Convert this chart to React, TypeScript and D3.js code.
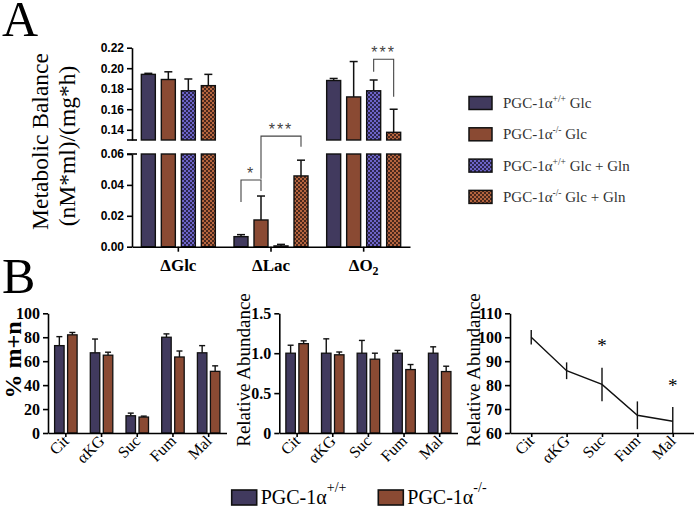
import React, { useEffect, useRef } from 'react';
import * as d3 from 'd3';

// ---- Panel A data: metabolic balance ----
const metabCats = ['ΔGlc', 'ΔLac', 'ΔO2'];
const wtGlc = [0.194, 0.0065, 0.188];
const wtGlcErr = [0.001, 0.0013, 0.002];
const koGlc = [0.189, 0.0173, 0.172];
const koGlcErr = [0.0075, 0.0155, 0.0345];
const wtGln = [0.178, 0.0005, 0.178];
const wtGlnErr = [0.0115, 0.001, 0.0105];
const koGln = [0.183, 0.0458, 0.1375];
const koGlnErr = [0.011, 0.0102, 0.0225];
const upperTicks = [0.14, 0.16, 0.18, 0.2, 0.22];
const lowerTicks = [0, 0.02, 0.04, 0.06];
const legendSup = ['+/+', '-/-', '+/+', '-/-'];
const legendSuffix = [' Glc', ' Glc', ' Glc + Gln', ' Glc + Gln'];
// brackets: category, left bar, right bar, top, left leg end, right leg end, label, axis part
const sigCat = ['ΔLac', 'ΔLac', 'ΔO2'];
const sigFrom = [0, 1, 2];
const sigTo = [1, 3, 3];
const sigTop = [0.0432, 0.0716, 0.2087];
const sigLeft = [0.029, 0.044, 0.1966];
const sigRight = [0.036, 0.0647, 0.1722];
const sigLabel = ['*', '***', '***'];
const sigPart = ['low', 'low', 'high'];

// ---- Panel B data ----
const tcaCats = ['Cit', 'αKG', 'Suc', 'Fum', 'Mal'];
const mnWT = [73, 67, 14.4, 80, 67];
const mnWTErr = [7.5, 11.5, 2.2, 2.8, 6];
const mnKO = [82, 65, 13.3, 63.5, 51.5];
const mnKOErr = [2, 2.5, 0.8, 5, 4.6];
const mnTicks = [0, 20, 40, 60, 80, 100];
const raWT = [1, 1, 1, 1, 1];
const raWTErr = [0.1, 0.18, 0.16, 0.035, 0.08];
const raKO = [1.12, 0.98, 0.925, 0.795, 0.77];
const raKOErr = [0.035, 0.035, 0.075, 0.063, 0.067];
const raTicks = [0, 0.5, 1.0, 1.5];
const lineVals = [100, 86, 80.3, 67.4, 64.9];
const lineErr = [3, 3.5, 7, 5.8, 6];
const lineTicks = [60, 70, 80, 90, 100, 110];
const lineStarCats = ['Suc', 'Mal'];
const lineStarVals = [98, 81.3];

const PURPLE = '#413a5e';
const BROWN = '#8a4a33';
const SERIF = '"Liberation Serif", "Times New Roman", Times, serif';
const SANS = '"Liberation Sans", Arial, sans-serif';

export default function App() {
    const svgRef = useRef<SVGSVGElement>(null);

    useEffect(() => {
        const svg = d3.select(svgRef.current);
        svg.selectAll('*').remove();

        // serif text helper (x/y anchor, optional rotation)
        const st = (parent: any, x: number, y: number, text: string, size: number, opts: any = {}) => {
            const t = parent.append('text')
                .attr('transform', `translate(${x},${y}) rotate(${opts.rot || 0})`)
                .attr('text-anchor', opts.anchor || 'start')
                .style('font-family', SERIF).style('font-size', size + 'px')
                .style('font-weight', opts.weight || 'normal')
                .attr('fill', opts.fill || '#000');
            if (text) t.text(text);
            return t;
        };

        const defs = svg.append('defs');
        const mkPattern = (id: string, light: string, dark: string) => {
            const p = defs.append('pattern').attr('id', id)
                .attr('width', 4).attr('height', 4).attr('patternUnits', 'userSpaceOnUse');
            p.append('rect').attr('width', 4).attr('height', 4).attr('fill', light);
            p.append('rect').attr('width', 2).attr('height', 2).attr('fill', dark);
            p.append('rect').attr('x', 2).attr('y', 2).attr('width', 2).attr('height', 2).attr('fill', dark);
        };
        mkPattern('chkWT', '#6d64c8', '#2c2750');
        mkPattern('chkKO', '#b5653f', '#4a281c');
        const fills = [PURPLE, BROWN, 'url(#chkWT)', 'url(#chkKO)'];

        // panel letters
        st(svg, 2, 36, 'A', 50);
        st(svg, 2, 293, 'B', 50);

        // ================= PANEL A =================
        const series = [
            { v: wtGlc, e: wtGlcErr }, { v: koGlc, e: koGlcErr },
            { v: wtGln, e: wtGlnErr }, { v: koGln, e: koGlnErr },
        ];
        const xA = d3.scaleBand<string>().domain(metabCats).range([132, 410]);
        const xAin = d3.scaleBand<number>().domain(d3.range(4)).range([-37, 37]).paddingInner(0.3);
        const yHigh = d3.scaleLinear().domain([0.13, 0.22]).range([140, 47.7]);
        const yLow = d3.scaleLinear().domain([0, 0.06]).range([246.7, 154]);
        const gA = svg.append('g');

        const styleAxis = (ax: any, font: string, size: number) => {
            ax.selectAll('path,line').attr('stroke', '#000').attr('stroke-width', 1.6);
            ax.selectAll('text').style('font-family', font).style('font-size', size + 'px')
                .style('font-weight', 'bold').attr('fill', '#000');
        };

        const axUp = gA.append('g').attr('transform', 'translate(132,0)')
            .call(d3.axisLeft(yHigh).tickValues(upperTicks).tickFormat(d3.format('.2f')).tickSize(5).tickSizeOuter(0));
        styleAxis(axUp, SANS, 12);
        const axLo = gA.append('g').attr('transform', 'translate(132,0)')
            .call(d3.axisLeft(yLow).tickValues(lowerTicks).tickFormat(d3.format('.2f')).tickSize(5).tickSizeOuter(0));
        styleAxis(axLo, SANS, 12);
        // break caps
        gA.append('line').attr('x1', 127).attr('x2', 137).attr('y1', yHigh(0.13)).attr('y2', yHigh(0.13)).attr('stroke', '#000').attr('stroke-width', 1.6);
        gA.append('line').attr('x1', 127).attr('x2', 137).attr('y1', yLow(0.06)).attr('y2', yLow(0.06)).attr('stroke', '#000').attr('stroke-width', 1.6);

        // bars
        series.forEach((s, si) => {
            metabCats.forEach((c, ci) => {
                const v = s.v[ci], e = s.e[ci];
                const x = (xA(c) as number) + xA.bandwidth() / 2 + (xAin(si) as number);
                const w = xAin.bandwidth();
                const lowTop = yLow(Math.min(v, 0.06));
                gA.append('rect').attr('x', x).attr('y', lowTop).attr('width', w)
                    .attr('height', yLow(0) - lowTop).attr('fill', fills[si]).attr('stroke', '#111').attr('stroke-width', 1.4);
                let top = lowTop, errTop = yLow(v + e);
                if (v > 0.13) {
                    top = yHigh(v);
                    errTop = yHigh(v + e);
                    gA.append('rect').attr('x', x).attr('y', top).attr('width', w)
                        .attr('height', yHigh(0.13) - top).attr('fill', fills[si]).attr('stroke', '#111').attr('stroke-width', 1.4);
                }
                const cx = x + w / 2;
                gA.append('line').attr('x1', cx).attr('x2', cx).attr('y1', top).attr('y2', errTop).attr('stroke', '#111').attr('stroke-width', 1.5);
                gA.append('line').attr('x1', cx - 4).attr('x2', cx + 4).attr('y1', errTop).attr('y2', errTop).attr('stroke', '#111').attr('stroke-width', 1.5);
            });
        });

        const axX = gA.append('g').attr('transform', `translate(0,${yLow(0)})`)
            .call(d3.axisBottom(xA).tickSize(5).tickSizeOuter(0).tickFormat(() => ''));
        styleAxis(axX, SANS, 12);

        metabCats.forEach((c) => {
            const cx = (xA(c) as number) + xA.bandwidth() / 2;
            const t = st(gA, cx, 271, '', 17, { anchor: 'middle', weight: 'bold' });
            if (c === 'ΔO2') {
                t.append('tspan').text('ΔO');
                t.append('tspan').attr('dy', 4).style('font-size', '12px').text('2');
            } else t.text(c);
        });

        // significance brackets
        sigCat.forEach((c, i) => {
            const ys = sigPart[i] === 'low' ? yLow : yHigh;
            const base = (xA(c) as number) + xA.bandwidth() / 2;
            const x1 = base + (xAin(sigFrom[i]) as number) + xAin.bandwidth() / 2;
            const x2 = base + (xAin(sigTo[i]) as number) + xAin.bandwidth() / 2;
            gA.append('path')
                .attr('d', `M${x1},${ys(sigLeft[i])}V${ys(sigTop[i])}H${x2}V${ys(sigRight[i])}`)
                .attr('fill', 'none').attr('stroke', '#444').attr('stroke-width', 1.1);
            gA.append('text').attr('x', (x1 + x2) / 2).attr('y', ys(sigTop[i]) - 1)
                .attr('text-anchor', 'middle').style('font-family', SANS).style('font-size', '16px')
                .style('letter-spacing', '2px').attr('fill', '#444').text(sigLabel[i]);
        });

        // y label
        st(gA, 48, 141.5, 'Metabolic Balance', 23.5, { rot: -90, anchor: 'middle' });
        st(gA, 75, 146, '(nM*ml)/(mg*h)', 23.5, { rot: -90, anchor: 'middle' });

        // legend A
        const lg = svg.append('g');
        d3.range(4).forEach((i) => {
            const cy = 103 + i * 31.3;
            lg.append('rect').attr('x', 469).attr('y', cy - 6.5).attr('width', 23).attr('height', 13)
                .attr('fill', fills[i]).attr('stroke', '#111').attr('stroke-width', 1.5);
            const t = st(lg, 503, cy + 5, '', 15, { fill: '#333' });
            t.append('tspan').text('PGC-1α');
            t.append('tspan').attr('dy', -6).style('font-size', '9.5px').text(legendSup[i]);
            t.append('tspan').attr('dy', 6).text(legendSuffix[i]);
        });

        // ================= PANEL B =================
        const yB0 = 433, yB1 = 313.3;
        const drawYAxis = (x: number, y: any, ticks: number[], fmt: (d: any) => string) => {
            const ax = svg.append('g').attr('transform', `translate(${x},0)`)
                .call(d3.axisLeft(y).tickValues(ticks).tickFormat(fmt).tickSize(5).tickSizeOuter(0));
            styleAxis(ax, SERIF, 16);
        };
        const drawXAxis = (x: any, y0: number) => {
            const ax = svg.append('g').attr('transform', `translate(0,${y0})`)
                .call(d3.axisBottom(x).tickSize(4).tickSizeOuter(0).tickFormat(() => ''));
            styleAxis(ax, SERIF, 16);
            tcaCats.forEach((c) => {
                const cx = (x(c) as number) + (x.bandwidth ? x.bandwidth() / 2 : 0);
                st(svg, cx + 4, y0 + 9, c, 16, { rot: -45, anchor: 'end' });
            });
        };

        const barChart = (x0: number, x1: number, domain: [number, number], ticks: number[], fmt: (d: any) => string,
            wt: number[], wtE: number[], ko: number[], koE: number[]) => {
            const x = d3.scaleBand<string>().domain(tcaCats).range([x0, x1]);
            const xin = d3.scaleBand<number>().domain([0, 1]).range([-11.25, 11.25]).paddingInner(0.27);
            const y = d3.scaleLinear().domain(domain).range([yB0, yB1]);
            [{ v: wt, e: wtE, f: PURPLE }, { v: ko, e: koE, f: BROWN }].forEach((s, si) => {
                tcaCats.forEach((c, ci) => {
                    const bx = (x(c) as number) + x.bandwidth() / 2 + (xin(si) as number);
                    const w = xin.bandwidth();
                    const top = y(s.v[ci]);
                    const et = y(s.v[ci] + s.e[ci]);
                    const cx = bx + w / 2;
                    svg.append('line').attr('x1', cx).attr('x2', cx).attr('y1', top).attr('y2', et).attr('stroke', '#111').attr('stroke-width', 1.4);
                    svg.append('line').attr('x1', cx - 3).attr('x2', cx + 3).attr('y1', et).attr('y2', et).attr('stroke', '#111').attr('stroke-width', 1.4);
                    svg.append('rect').attr('x', bx).attr('y', top).attr('width', w).attr('height', yB0 - top)
                        .attr('fill', s.f).attr('stroke', '#111').attr('stroke-width', 1.3);
                });
            });
            drawYAxis(x0, y, ticks, fmt);
            drawXAxis(x, yB0);
        };

        barChart(48, 226.5, [0, 100], mnTicks, d3.format('d'), mnWT, mnWTErr, mnKO, mnKOErr);
        st(svg, 21, 360, '% m+n', 24, { rot: -90, anchor: 'middle', weight: 'bold' });

        barChart(279.3, 457.5, [0, 1.5], raTicks, (d) => (d === 0 ? '0' : d3.format('.1f')(d)), raWT, raWTErr, raKO, raKOErr);
        st(svg, 250, 370, 'Relative Abundance', 19, { rot: -90, anchor: 'middle' });

        // line chart
        const xL = d3.scalePoint<string>().domain(tcaCats).range([510, 694]).padding(0.6);
        const yL = d3.scaleLinear().domain([60, 110]).range([yB0, yB1]);
        tcaCats.forEach((c, i) => {
            svg.append('line').attr('x1', xL(c) as number).attr('x2', xL(c) as number)
                .attr('y1', yL(Math.max(60, lineVals[i] - lineErr[i]))).attr('y2', yL(lineVals[i] + lineErr[i]))
                .attr('stroke', '#111').attr('stroke-width', 1.4);
        });
        svg.append('path').datum(lineVals)
            .attr('d', d3.line<number>().x((d, i) => xL(tcaCats[i]) as number).y((d) => yL(d)))
            .attr('fill', 'none').attr('stroke', '#111').attr('stroke-width', 1.4);
        lineStarCats.forEach((c, i) => {
            st(svg, xL(c) as number, yL(lineStarVals[i]) + 10, '*', 19, { anchor: 'middle' });
        });
        const axL = svg.append('g').attr('transform', 'translate(510,0)')
            .call(d3.axisLeft(yL).tickValues(lineTicks).tickFormat(d3.format('d')).tickSize(5).tickSizeOuter(0));
        styleAxis(axL, SERIF, 16);
        drawXAxis(xL, yB0);
        st(svg, 480, 370, 'Relative Abundance', 19, { rot: -90, anchor: 'middle' });

        // bottom legend
        const lb = svg.append('g');
        [{ x: 231.7, f: PURPLE, sup: '+/+' }, { x: 378.3, f: BROWN, sup: '-/-' }].forEach((d) => {
            lb.append('rect').attr('x', d.x).attr('y', 490).attr('width', 25).attr('height', 15)
                .attr('fill', d.f).attr('stroke', '#111').attr('stroke-width', 1.6);
            const t = st(lb, d.x + 29, 504, '', 20);
            t.append('tspan').text('PGC-1α');
            t.append('tspan').attr('dy', -12).style('font-size', '14px').text(d.sup);
        });
    }, []);

    return (
        <svg ref={svgRef} width={694} height={508}
            style={{ position: 'absolute', left: 0, top: 0, background: '#fff' }} />
    );
}
